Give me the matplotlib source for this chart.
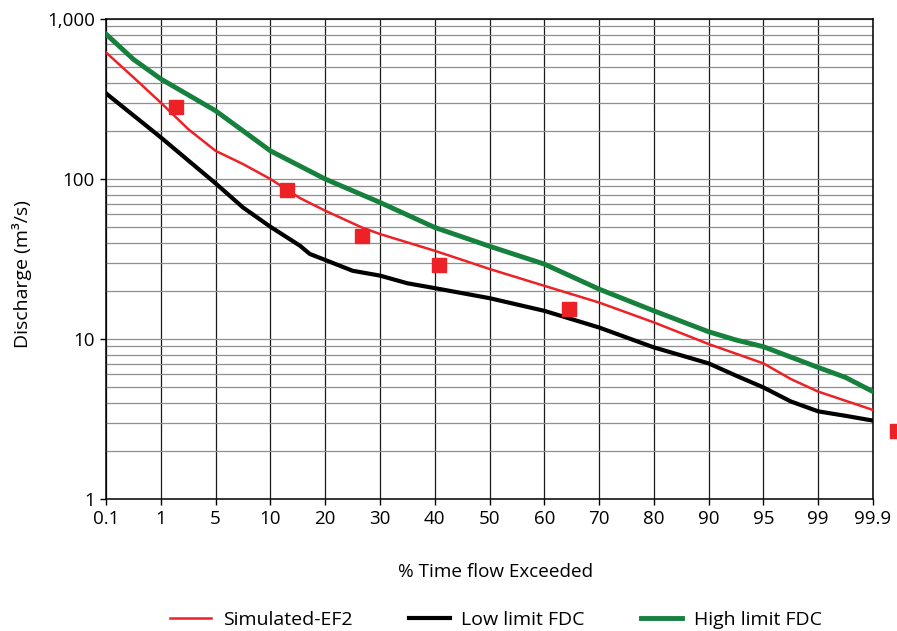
import numpy as np
import matplotlib
matplotlib.use("Agg")
import matplotlib.pyplot as plt
from matplotlib.ticker import LogLocator, FixedLocator, NullFormatter, FuncFormatter

plt.rcParams['font.family'] = ['Open Sans', 'DejaVu Sans']

# x axis: equally spaced exceedance categories
X_LABELS = ["0.1", "1", "5", "10", "20", "30", "40", "50", "60", "70",
            "80", "90", "95", "99", "99.9"]

# curves, x given in axis category units (0 = 0.1 %, 14 = 99.9 %)
high_x = [0, 0.5, 1, 2, 3, 4, 5, 6, 7, 8, 9, 10, 11, 11.5, 12, 13, 13.5, 14]
high_q = [805, 560, 422, 267, 150, 100, 71.4, 49.8, 38.0, 29.4, 20.5, 15.0,
          11.1, 9.86, 8.95, 6.64, 5.75, 4.69]

sim_x = [0, 0.5, 1, 1.5, 2, 2.5, 3, 3.54, 4, 4.67, 5, 6, 7, 8, 9, 10, 11, 12,
         12.5, 13, 13.5, 14]
sim_q = [618, 432, 300, 205, 150, 124, 100, 76, 63.4, 49.8, 45.3, 35.6, 27.4,
         21.5, 16.9, 12.7, 9.3, 7.04, 5.62, 4.69, 4.11, 3.6]

low_x = [0, 1, 2, 2.5, 3, 3.54, 3.72, 4, 4.5, 5, 5.5, 6, 7, 8, 9, 10, 11,
         11.5, 12, 12.5, 13, 13.5, 14]
low_q = [343, 182, 93.9, 66.4, 50.3, 38.3, 34, 31.2, 26.7, 24.9, 22.3, 20.8,
         18.0, 15.0, 11.8, 8.86, 7.04, 5.9, 4.98, 4.07, 3.53, 3.31, 3.09]

obs_x = [1.28, 3.31, 4.67, 6.07, 8.45, 14.44]
obs_q = [283, 85.3, 44.2, 28.8, 15.3, 2.67]

RED = "#ed2227"
GREEN = "#16803d"

fig = plt.figure(figsize=(8.97, 6.31), dpi=100)
ax = fig.add_axes([106/897, 1-499/631, (873-106)/897, (499-19)/631])

ax.set_yscale("log")
ax.set_xlim(0, 14)
ax.set_ylim(1, 1000)

ax.xaxis.set_major_locator(FixedLocator(range(len(X_LABELS))))
ax.set_xticklabels(X_LABELS)
ax.yaxis.set_major_locator(LogLocator(base=10))
ax.yaxis.set_minor_locator(LogLocator(base=10, subs=np.arange(2, 10)))
ax.yaxis.set_minor_formatter(NullFormatter())
ax.yaxis.set_major_formatter(FuncFormatter(lambda v, p: f"{int(round(v)):,}"))

ax.grid(True, axis="y", which="both", color="#8f8f8f", lw=0.9)
ax.grid(True, axis="x", which="major", color="#1a1a1a", lw=0.9)
ax.set_axisbelow(True)

ax.tick_params(axis="both", which="major", direction="out", length=4,
               width=1, labelsize=13.5, colors="black", pad=4)
ax.tick_params(axis="y", which="minor", length=0)
for sp in ax.spines.values():
    sp.set_color("black")
    sp.set_linewidth(1.1)

ax.plot(sim_x, sim_q, color=RED, lw=1.8, label="Simulated-EF2", zorder=3)
ax.plot(low_x, low_q, color="black", lw=3.0, label="Low limit FDC", zorder=3)
ax.plot(high_x, high_q, color=GREEN, lw=3.5, label="High limit FDC", zorder=3)
ax.plot(obs_x, obs_q, ls="none", marker="s", ms=10, color=RED,
        clip_on=False, zorder=4)

fig.text(495.5/897, 1-572/631, "% Time flow Exceeded", fontsize=13.6,
         ha="center", va="center")
fig.text(22/897, 1-274/631, "Discharge (m\u00b3/s)", fontsize=14,
         rotation=90, ha="center", va="center")

fig.legend(*ax.get_legend_handles_labels(), loc="center",
           bbox_to_anchor=(496/897, 1-620/631), ncol=3, frameon=False,
           fontsize=14, handlelength=2.1, columnspacing=2.9,
           handletextpad=0.6, borderaxespad=0, borderpad=0)

fig.savefig("out.png", dpi=100)
